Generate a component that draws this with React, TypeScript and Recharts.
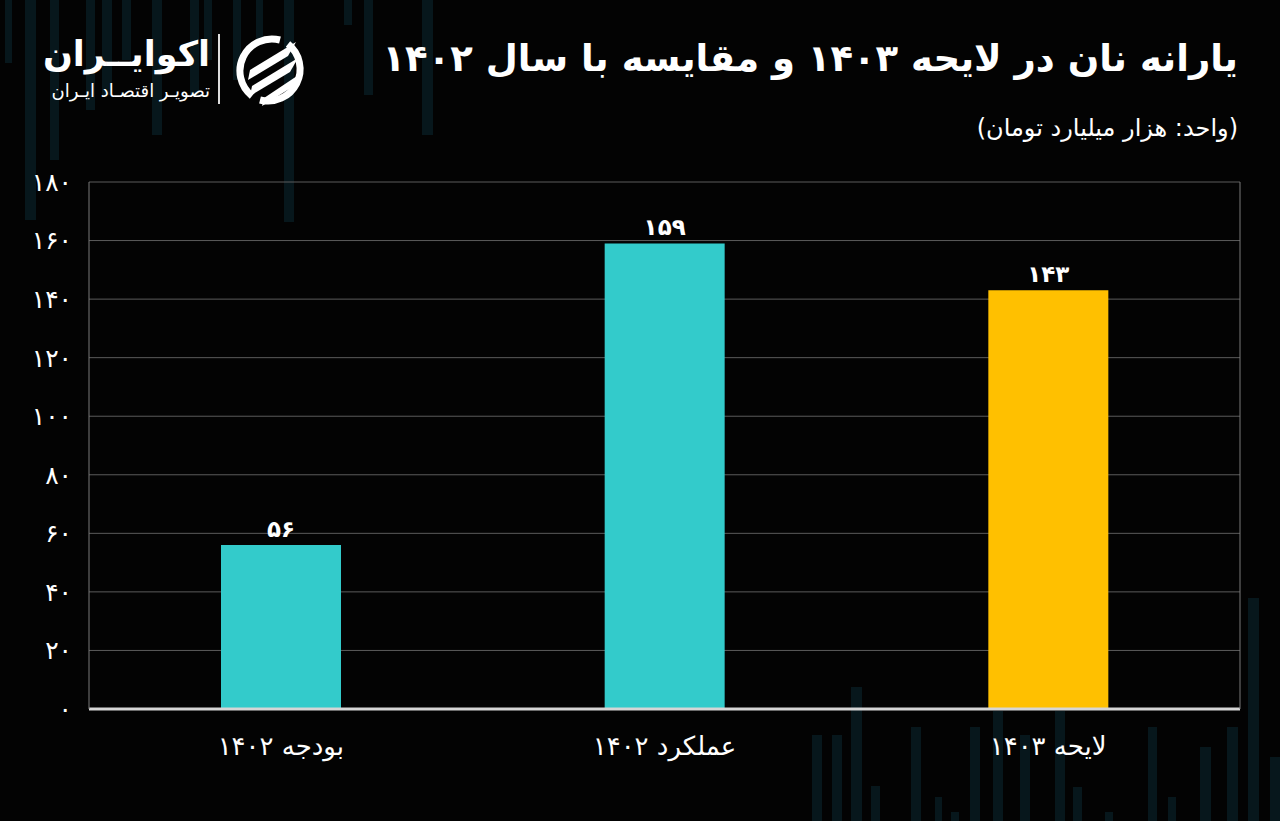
import React from 'react';
import { BarChart, Bar, XAxis, YAxis, CartesianGrid, LabelList, Cell } from 'recharts';

const categories = ['بودجه ۱۴۰۲', 'عملکرد ۱۴۰۲', 'لایحه ۱۴۰۳'];
const values = [56, 159, 143];
const barColors = ['#33CBCB', '#33CBCB', '#FFC000'];
const yTicks = [0, 20, 40, 60, 80, 100, 120, 140, 160, 180];

// faint background stripes (decoration only): [x, width, length]
const topStripes = [
  [5, 7, 63], [25, 11, 220], [50, 9, 160], [86, 9, 110], [102, 10, 95], [122, 9, 60],
  [152, 10, 135], [190, 9, 95], [204, 8, 60], [233, 8, 80], [256, 7, 40], [284, 10, 222],
  [344, 8, 25], [364, 9, 95], [422, 11, 135],
];
const bottomStripes = [
  [812, 10, 735], [832, 10, 735], [851, 11, 687], [871, 9, 786], [911, 10, 727],
  [935, 7, 797], [951, 8, 812], [970, 10, 727], [993, 10, 711], [1020, 10, 735],
  [1055, 10, 711], [1073, 9, 787], [1105, 8, 812], [1148, 9, 727], [1168, 8, 797],
  [1200, 11, 747], [1227, 11, 727], [1248, 11, 598], [1270, 10, 757],
];

const FONT = '"DejaVu Sans", sans-serif';
const toFa = (v: number | string) => String(v).replace(/\d/g, (d) => '۰۱۲۳۴۵۶۷۸۹'[Number(d)]);

const rows = categories.map((name, i) => ({ name, value: values[i] }));

function Logo() {
  return (
    <div style={{ position: 'absolute', left: 48, top: 30, width: 270, height: 80 }}>
      <div dir="rtl" style={{ position: 'absolute', right: 108, top: 2, color: '#fff', fontFamily: FONT, fontWeight: 'bold', fontSize: 35, whiteSpace: 'nowrap', lineHeight: '44px' }}>
        اکوایــران
      </div>
      <div dir="rtl" style={{ position: 'absolute', right: 108, top: 50, color: '#fff', fontFamily: FONT, fontSize: 18, whiteSpace: 'nowrap' }}>
        تصویـر اقتصـاد ایـران
      </div>
      <div style={{ position: 'absolute', left: 170, top: 4, width: 2, height: 70, background: '#ddd' }} />
      <svg style={{ position: 'absolute', left: 182, top: 0 }} width={80} height={80} viewBox="0 0 80 80">
        <path d="M 22 66 A 32 32 0 0 1 50 10" fill="none" stroke="#fff" strokeWidth={7} />
        <path d="M 58 14 A 32 32 0 0 1 30 70" fill="none" stroke="#fff" strokeWidth={7} />
        <polygon points="20,40 66,12 58,26 18,50" fill="#fff" />
        <polygon points="22,56 68,28 60,42 20,66" fill="#fff" />
        <polygon points="34,68 70,44 64,56 32,76" fill="#fff" />
      </svg>
    </div>
  );
}

export default function App() {
  return (
    <div style={{ position: 'absolute', left: 0, top: 0, width: 1280, height: 821, background: '#030303', overflow: 'hidden' }}>
      <svg style={{ position: 'absolute', left: 0, top: 0 }} width={1280} height={821}>
        {topStripes.map(([x, w, h], i) => (
          <rect key={'t' + i} x={x} y={0} width={w} height={h} fill="#07171c" />
        ))}
        {bottomStripes.map(([x, w, y], i) => (
          <rect key={'b' + i} x={x} y={y} width={w} height={821 - y} fill="#07171c" />
        ))}
      </svg>

      <Logo />

      <div dir="rtl" style={{ position: 'absolute', right: 42, top: 37, color: '#fff', fontFamily: FONT, fontWeight: 'bold', fontSize: 37, whiteSpace: 'nowrap' }}>
        یارانه نان در لایحه ۱۴۰۳ و مقایسه با سال ۱۴۰۲
      </div>
      <div dir="rtl" style={{ position: 'absolute', right: 42, top: 114, color: '#fff', fontFamily: FONT, fontSize: 24, whiteSpace: 'nowrap' }}>
        (واحد: هزار میلیارد تومان)
      </div>

      <div style={{ position: 'absolute', left: 0, top: 0 }}>
        <BarChart width={1280} height={821} data={rows} margin={{ top: 182, right: 0, left: 0, bottom: 0 }}>
          <CartesianGrid horizontal vertical={false} stroke="#5c5c5c" />
          <XAxis
            dataKey="name"
            height={112}
            interval={0}
            tickLine={false}
            tickSize={0}
            tickMargin={28}
            axisLine={{ stroke: '#d6d6d6', strokeWidth: 3 }}
            tick={{ fill: '#fff', fontSize: 26, fontFamily: FONT }}
          />
          <YAxis
            width={89}
            domain={[0, 180]}
            ticks={yTicks}
            tickLine={false}
            tickSize={0}
            tickMargin={17}
            axisLine={{ stroke: '#7a7a7a' }}
            tick={{ fill: '#fff', fontSize: 25, fontFamily: FONT }}
            tickFormatter={toFa}
          />
          <YAxis
            yAxisId="right"
            orientation="right"
            width={40}
            domain={[0, 180]}
            tick={false}
            tickLine={false}
            axisLine={{ stroke: '#7a7a7a' }}
          />
          <Bar dataKey="value" barSize={120} isAnimationActive={false}>
            {rows.map((r, i) => (
              <Cell key={r.name} fill={barColors[i]} />
            ))}
            <LabelList
              dataKey="value"
              position="top"
              offset={8}
              fill="#fff"
              fontSize={23}
              fontWeight="bold"
              fontFamily={FONT}
              formatter={(v: any) => toFa(v)}
            />
          </Bar>
        </BarChart>
      </div>
    </div>
  );
}
